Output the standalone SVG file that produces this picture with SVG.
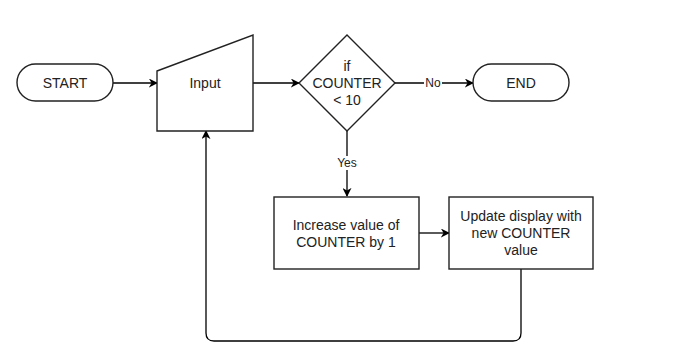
<svg xmlns="http://www.w3.org/2000/svg" width="679" height="350" viewBox="0 0 679 350">
<defs>
<marker id="arr" viewBox="0 0 10 10" refX="9" refY="5" markerWidth="9" markerHeight="9" markerUnits="userSpaceOnUse" orient="auto">
<path d="M0,0 L10,5 L0,10 L3,5 Z" fill="#000"/>
</marker>
</defs>
<style>
.shape{fill:#fff;stroke:#222;stroke-width:1.4}
.conn{fill:none;stroke:#000;stroke-width:1.3}
text{font-family:"Liberation Sans",Arial,sans-serif;font-size:14px;fill:#222;text-anchor:middle;dominant-baseline:central}
.lbl{font-size:12px}
</style>
<rect width="679" height="350" fill="#fff"/>
<g id="connectors">
<path class="conn" d="M113,83 L157,83" marker-end="url(#arr)"/>
<path class="conn" d="M253,83 L299,83" marker-end="url(#arr)"/>
<path class="conn" d="M395,83 L473,83" marker-end="url(#arr)"/>
<path class="conn" d="M347,130 L347,196" marker-end="url(#arr)"/>
<path class="conn" d="M419,233 L449,233" marker-end="url(#arr)"/>
<path class="conn" d="M521,269 L521,333 Q521,341 513,341 L214,341 Q206,341 206,333 L206,131" marker-end="url(#arr)"/>
<rect x="424" y="76" width="18" height="14" fill="#fff"/>
<text class="lbl" x="433" y="83">No</text>
<rect x="334" y="156" width="26" height="14" fill="#fff"/>
<text class="lbl" x="347" y="163">Yes</text>
</g>
<g id="start">
<rect class="shape" x="17" y="64" width="96" height="37" rx="18.5"/>
<text x="65" y="83">START</text>
</g>
<g id="input">
<path class="shape" d="M157,71 L253,35 L253,131 L157,131 Z"/>
<text x="205" y="83">Input</text>
</g>
<g id="decision">
<path class="shape" d="M347,35 L395,83 L347,131 L299,83 Z"/>
<text x="347" y="66">if</text>
<text x="347" y="83">COUNTER</text>
<text x="347" y="100">&lt; 10</text>
</g>
<g id="end">
<rect class="shape" x="473" y="64" width="96" height="37" rx="18.5"/>
<text x="521" y="83">END</text>
</g>
<g id="increase">
<rect class="shape" x="274" y="197" width="145" height="72"/>
<text x="346" y="225">Increase value of</text>
<text x="346" y="242">COUNTER by 1</text>
</g>
<g id="update">
<rect class="shape" x="449" y="197" width="144" height="72"/>
<text x="521" y="216">Update display with</text>
<text x="521" y="233">new COUNTER</text>
<text x="521" y="250">value</text>
</g>
</svg>
